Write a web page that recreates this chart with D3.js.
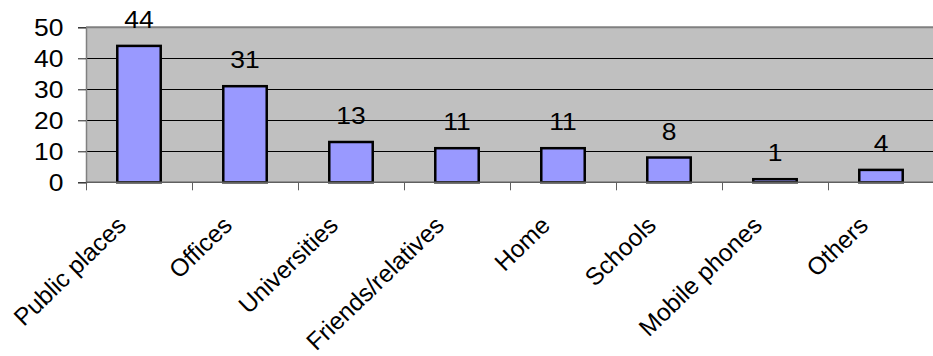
<!DOCTYPE html>
<html>
<head>
<meta charset="utf-8">
<script src="https://cdn.jsdelivr.net/npm/d3@7"></script>
<style>
  html, body { margin: 0; padding: 0; background: #fff; }
  svg { display: block; }
  text { font-family: "Liberation Sans", Arial, sans-serif; }
</style>
</head>
<body>
<svg id="chart" width="933" height="356"></svg>
<script>
// Where respondents access the internet (counts)
const categories = ["Public places", "Offices", "Universities", "Friends/relatives",
                    "Home", "Schools", "Mobile phones", "Others"];
const values = [44, 31, 13, 11, 11, 8, 1, 4];
const yTicks = [0, 10, 20, 30, 40, 50];

const svg = d3.select("#chart");
const plot = { left: 86, right: 934, top: 27.3, bottom: 182.3 };
const FONT = 23;
const WIDEN = 1.15;   // horizontal numerals are set slightly wide

const x = d3.scaleBand()
  .domain(categories)
  .range([plot.left, plot.right])
  .paddingInner(0.59)
  .paddingOuter(0.295);

const y = d3.scaleLinear()
  .domain([0, 50])
  .range([plot.bottom, plot.top]);

// plot background
svg.append("rect")
  .attr("x", plot.left).attr("y", plot.top)
  .attr("width", plot.right - plot.left).attr("height", plot.bottom - plot.top)
  .attr("fill", "#c0c0c0");

// horizontal gridlines
svg.append("g")
  .selectAll("line")
  .data(yTicks.filter(d => d > 0 && d < 50))
  .join("line")
  .attr("x1", plot.left).attr("x2", plot.right)
  .attr("y1", d => Math.round(y(d)) + 0.5).attr("y2", d => Math.round(y(d)) + 0.5)
  .attr("stroke", "#000").attr("stroke-width", 1);

// top border of plot area
svg.append("line")
  .attr("x1", plot.left).attr("x2", plot.right)
  .attr("y1", y(50)).attr("y2", y(50))
  .attr("stroke", "#808080").attr("stroke-width", 2);

// bars
svg.append("g")
  .selectAll("rect")
  .data(values)
  .join("rect")
  .attr("x", (d, i) => x(categories[i]))
  .attr("y", d => y(d))
  .attr("width", x.bandwidth())
  .attr("height", d => y(0) - y(d))
  .attr("fill", "#9999ff")
  .attr("stroke", "#000")
  .attr("stroke-width", 2.5);

// value labels
svg.append("g")
  .selectAll("text")
  .data(values)
  .join("text")
  .attr("transform", (d, i) =>
    `translate(${x(categories[i]) + x.bandwidth() / 2},${y(d) - 18}) scale(${WIDEN},1)`)
  .attr("text-anchor", "middle")
  .attr("font-size", FONT)
  .attr("fill", "#000")
  .text(d => d);

// y axis
const yAxis = d3.axisLeft(y).tickValues(yTicks).tickSize(8).tickPadding(0);
const gy = svg.append("g")
  .attr("transform", `translate(${plot.left},0)`)
  .call(yAxis);
gy.select(".domain").attr("stroke", "#808080").attr("stroke-width", 1.5);
gy.selectAll(".tick line").attr("stroke", "#202020");
gy.selectAll(".tick text")
  .attr("x", 0)
  .attr("transform", `translate(-22.5,0) scale(${WIDEN},1)`)
  .attr("font-size", FONT)
  .attr("font-family", "Liberation Sans, Arial, sans-serif")
  .attr("fill", "#000")
  .attr("dy", "0.36em");

// x axis baseline and category boundary ticks
const step = x.step();
svg.append("line")
  .attr("x1", plot.left).attr("x2", plot.right)
  .attr("y1", y(0)).attr("y2", y(0))
  .attr("stroke", "#606060").attr("stroke-width", 1.5);
svg.append("g")
  .selectAll("line")
  .data(d3.range(categories.length))
  .join("line")
  .attr("x1", i => Math.round(plot.left + i * step) + 0.5)
  .attr("x2", i => Math.round(plot.left + i * step) + 0.5)
  .attr("y1", y(0)).attr("y2", y(0) + 8)
  .attr("stroke", "#606060").attr("stroke-width", 1);

// rotated category labels
svg.append("g")
  .selectAll("text")
  .data(categories)
  .join("text")
  .attr("transform", d => {
    const cx = x(d) + x.bandwidth() / 2 - 11.5;
    return `translate(${cx},227) rotate(-44)`;
  })
  .attr("text-anchor", "end")
  .attr("font-size", 24.5)
  .attr("fill", "#000")
  .text(d => d);
</script>
</body>
</html>
